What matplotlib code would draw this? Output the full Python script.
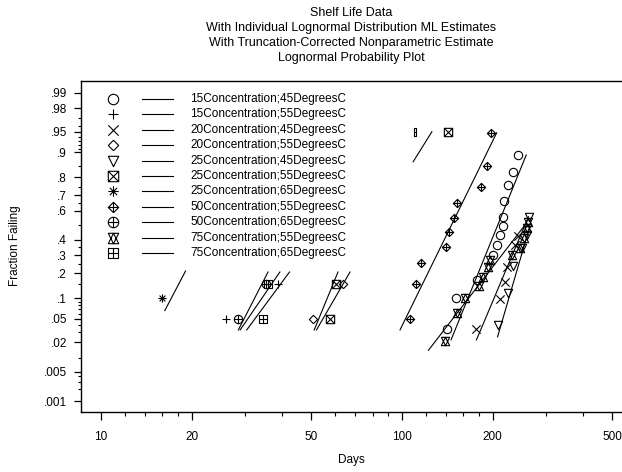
import math
import numpy as np
import matplotlib
matplotlib.use("Agg")
import matplotlib.pyplot as plt
from matplotlib.path import Path
from matplotlib.ticker import FixedLocator, FixedFormatter, NullFormatter

plt.rcParams["font.family"] = ["Liberation Sans", "DejaVu Sans"]

title_lines = ["Shelf Life Data",
               "With Individual Lognormal Distribution ML Estimates",
               "With Truncation-Corrected Nonparametric Estimate",
               "Lognormal Probability Plot"]

groups = ["15Concentration;45DegreesC", "15Concentration;55DegreesC",
          "20Concentration;45DegreesC", "20Concentration;55DegreesC",
          "25Concentration;45DegreesC", "25Concentration;55DegreesC",
          "25Concentration;65DegreesC", "50Concentration;55DegreesC",
          "50Concentration;65DegreesC", "75Concentration;55DegreesC",
          "75Concentration;65DegreesC"]

# nonparametric points (days, fraction failing) per group
pts_days = [
    [140.8, 151.2, 177.1, 201.0, 207.3, 211.6, 216.1, 217.1, 218.8, 225.5, 234.3, 242.3],
    [26.0, 38.7],
    [176.7, 211.6, 219.9, 222.8, 237.4, 242.9],
    [50.5, 63.6],
    [208.9, 224.5, 234.3, 249.9, 259.6, 264.8],
    [57.7, 60.3, 142.0],
    [15.9],
    [106.3, 111.3, 115.4, 140.0, 142.9, 148.9, 152.1, 182.8, 191.1, 197.6],
    [28.6, 35.3],
    [139.0, 152.0, 162.0, 180.6, 186.3, 193.5, 196.1, 231.5, 246.6, 254.3, 259.6, 262.4],
    [34.6, 35.8],
]
pts_frac = [
    [0.034, 0.10, 0.168, 0.303, 0.363, 0.432, 0.495, 0.56, 0.665, 0.761, 0.827, 0.892],
    [0.05, 0.15],
    [0.034, 0.097, 0.161, 0.233, 0.365, 0.425],
    [0.05, 0.15],
    [0.04, 0.118, 0.237, 0.343, 0.432, 0.56],
    [0.05, 0.15, 0.95],
    [0.10],
    [0.05, 0.151, 0.252, 0.353, 0.451, 0.549, 0.654, 0.748, 0.851, 0.948],
    [0.05, 0.15],
    [0.021, 0.062, 0.102, 0.144, 0.183, 0.233, 0.271, 0.301, 0.343, 0.41, 0.479, 0.52],
    [0.05, 0.15],
]

# ML lognormal fit lines, end points (days, fraction failing)
fit_days = [[145.5, 258.7], [29.0, 39.3], [176.7, 263.1], [52.0, 67.2],
            [207.7, 265.6], [51.1, 61.3], [16.3, 19.1], [98.5, 206.3],
            [28.6, 35.9], [122.4, 258.7], [30.5, 42.3]]
fit_frac = [[0.022, 0.892], [0.033, 0.206], [0.022, 0.56], [0.033, 0.206],
            [0.025, 0.49], [0.033, 0.206], [0.067, 0.211], [0.033, 0.948],
            [0.033, 0.206], [0.014, 0.514], [0.033, 0.206]]

# short upper segment and small mark near 110 days
extra_days = [108.9, 125.7]
extra_frac = [0.868, 0.95]
extra_pt_days = [110.3]
extra_pt_frac = [0.95]

ytick_vals = [0.99, 0.98, 0.95, 0.9, 0.8, 0.7, 0.6, 0.4, 0.3, 0.2, 0.1,
              0.05, 0.02, 0.005, 0.001]
ytick_labels = [".99", ".98", ".95", ".9", ".8", ".7", ".6", ".4", ".3", ".2",
                ".1", ".05", ".02", ".005", ".001"]
yminor_vals = [0.97, 0.96, 0.94, 0.93, 0.92, 0.91, 0.85, 0.75, 0.65, 0.5,
               0.35, 0.25, 0.15, 0.09, 0.08, 0.07, 0.06, 0.04, 0.03, 0.01,
               0.004, 0.003, 0.002]
xtick_vals = [10, 20, 50, 100, 200, 500]
xminor_vals = [12, 14, 16, 18, 30, 40, 60, 70, 80, 90, 120, 140, 160, 180, 300, 400]


def norm_ppf(p):
    # Acklam rational approximation of the standard normal quantile
    p = np.clip(np.asarray(p, dtype=float), 1e-12, 1 - 1e-12)
    a = [-3.969683028665376e+01, 2.209460984245205e+02, -2.759285104469687e+02,
         1.383577518672690e+02, -3.066479806614716e+01, 2.506628277459239e+00]
    b = [-5.447609879822406e+01, 1.615858368580409e+02, -1.556989798598866e+02,
         6.680131188771972e+01, -1.328068155288572e+01]
    c = [-7.784894002430293e-03, -3.223964580411365e-01, -2.400758277161838e+00,
         -2.549732539343734e+00, 4.374664141464968e+00, 2.938163982698783e+00]
    d = [7.784695709041462e-03, 3.224671290700398e-01, 2.445134137142996e+00,
         3.754408661907416e+00]
    plow = 0.02425
    q = np.sqrt(-2 * np.log(np.where(p < 0.5, p, 1 - p)))
    tail = (((((c[0]*q + c[1])*q + c[2])*q + c[3])*q + c[4])*q + c[5]) / \
           ((((d[0]*q + d[1])*q + d[2])*q + d[3])*q + 1)
    r0 = p - 0.5
    r = r0 * r0
    mid = (((((a[0]*r + a[1])*r + a[2])*r + a[3])*r + a[4])*r + a[5]) * r0 / \
          (((((b[0]*r + b[1])*r + b[2])*r + b[3])*r + b[4])*r + 1)
    out = np.where(p < plow, tail, np.where(p > 1 - plow, -tail, mid))
    return out


_erf = np.vectorize(math.erf, otypes=[float])


def norm_cdf(z):
    z = np.asarray(z, dtype=float)
    return 0.5 * (1 + _erf(z / math.sqrt(2)))


def lines_path(polys):
    verts, codes = [], []
    for poly in polys:
        verts += poly
        codes += [Path.MOVETO] + [Path.LINETO] * (len(poly) - 1)
    return Path(verts, codes)


square = [(-1, -1), (1, -1), (1, 1), (-1, 1), (-1, -1)]
cross = [[(-1, -1), (1, 1)], [(-1, 1), (1, -1)]]
plus = [[(-1, 0), (1, 0)], [(0, -1), (0, 1)]]
diamond = [(0, -1.25), (1.25, 0), (0, 1.25), (-1.25, 0), (0, -1.25)]
tri_down = [(-1, 1), (1, 1), (0, -1), (-1, 1)]
tri_up = [(-1, -1), (1, -1), (0, 1), (-1, -1)]
small_cross = [[(-0.7, -0.7), (0.7, 0.7)], [(-0.7, 0.7), (0.7, -0.7)]]

markers = [
    Path.unit_circle(),
    lines_path(plus),
    lines_path(cross),
    lines_path([diamond]),
    lines_path([tri_down]),
    lines_path([square] + cross),
    lines_path(plus + small_cross),
    lines_path([diamond] + plus),
    Path.make_compound_path(Path.unit_circle(), lines_path(plus)),
    lines_path([tri_down, tri_up]),
    lines_path([square] + plus),
]
tiny_marker = lines_path([[(-0.35, -1), (0.35, -1), (0.35, 1), (-0.35, 1), (-0.35, -1)],
                          [(-0.35, 0), (0.35, 0)]])

fig = plt.figure(figsize=(6.22, 4.72), dpi=100)
ax = fig.add_axes([81 / 622, 1 - 412 / 472, 541 / 622, 331.5 / 472])
ax.set_xscale("log")
ax.set_yscale("function", functions=(norm_ppf, norm_cdf))
ax.set_xlim(8.585, 538)
ax.set_ylim(0.000517, 0.99454)

for i in range(len(groups)):
    ax.plot(fit_days[i], fit_frac[i], color="black", lw=0.8)
    ax.plot(pts_days[i], pts_frac[i], ls="none", marker=markers[i],
            ms=6, mec="black", mfc="none", mew=0.8)
ax.plot(extra_days, extra_frac, color="black", lw=0.8)
ax.plot(extra_pt_days, extra_pt_frac, ls="none", marker=tiny_marker,
        ms=6, mec="black", mfc="none", mew=0.8)

# legend: symbol, line sample, label
row0 = 1 - (99 - 80.5) / 331.5
step = 15.4 / 331.5
for i, name in enumerate(groups):
    yy = row0 - i * step
    ax.plot([0.0592], [yy], transform=ax.transAxes, ls="none",
            marker=markers[i], ms=7.5, mec="black", mfc="none", mew=0.8)
    ax.plot([0.1128, 0.1700], [yy, yy], transform=ax.transAxes,
            color="black", lw=0.8)
    ax.text(0.2015, yy, name, transform=ax.transAxes, va="center",
            ha="left", fontsize=8.5)

ax.xaxis.set_major_locator(FixedLocator(xtick_vals))
ax.xaxis.set_major_formatter(FixedFormatter([str(v) for v in xtick_vals]))
ax.xaxis.set_minor_locator(FixedLocator(xminor_vals))
ax.xaxis.set_minor_formatter(NullFormatter())
ax.yaxis.set_major_locator(FixedLocator(ytick_vals))
ax.yaxis.set_major_formatter(FixedFormatter(ytick_labels))
ax.yaxis.set_minor_locator(FixedLocator(yminor_vals))
ax.yaxis.set_minor_formatter(NullFormatter())

ax.tick_params(axis="x", which="major", direction="out", length=6, width=0.9,
               labelsize=8.5, pad=8)
ax.tick_params(axis="x", which="minor", direction="out", length=3, width=0.8)
ax.tick_params(axis="y", which="major", direction="out", length=5, width=0.9,
               labelsize=8.5, pad=5)
ax.tick_params(axis="y", which="minor", direction="out", length=2.5, width=0.8)

ax.spines["right"].set_visible(False)
for s in ["left", "bottom", "top"]:
    ax.spines[s].set_linewidth(1.0)

cx = (81 + 622) / 2 / 622
for k, line in enumerate(title_lines):
    fig.text(cx, 1 - (13 + 15 * k) / 472, line, ha="center", va="center",
             fontsize=9)
fig.text(cx, 1 - 460 / 472, "Days", ha="center", va="center", fontsize=8.5)
fig.text(15 / 622, 1 - 246 / 472, "Fraction Failing", ha="center",
         va="center", rotation=90, fontsize=8.5)

fig.savefig("out.png", dpi=100)
